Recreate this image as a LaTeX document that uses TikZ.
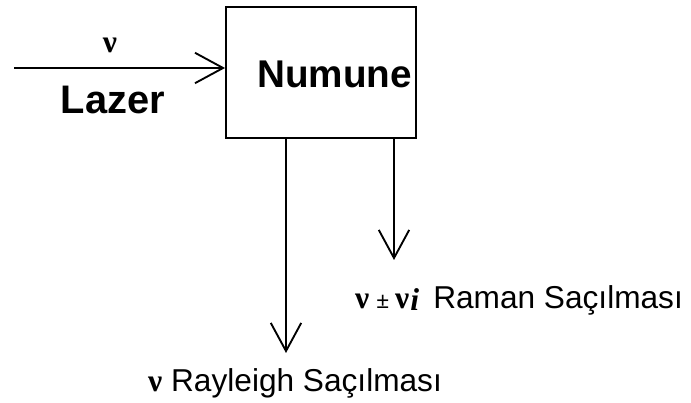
\documentclass[tikz,border=0pt]{standalone}
\usepackage{fontspec}
\setmainfont{Liberation Sans}
\newfontfamily\greekfont{Liberation Serif}
\usetikzlibrary{arrows.meta}
\usetikzlibrary{positioning}

\newcommand{\nusym}{{\greekfont\bfseries ν}}
\tikzset{
  beam/.style={line width=1.6pt,-{Straight Barb[length=24pt,width=26pt,line width=1.6pt]}},
  box/.style={draw,line width=1.6pt,minimum width=5.7cm,minimum height=3.93cm,inner sep=0pt},
  big/.style={font=\fontsize{33}{37}\selectfont\bfseries,inner sep=0pt},
  lbl/.style={font=\fontsize{27}{31}\selectfont,inner sep=0pt,anchor=west}
}

\begin{document}
\begin{tikzpicture}[x=0.03cm,y=0.03cm]
\useasboundingbox (0,0) rectangle (691,403);
\node[box] (sample) at (321,330.5){};
\node[big] (numune) at (334.5,329){Numune};
\coordinate (laser) at (14,335);
\draw[beam] (laser) -- (laser -| sample.west);
\node[lbl,anchor=center] (nuin) at (110,358){\nusym};
\node[big,font=\fontsize{34}{38}\selectfont\bfseries] (lazer) at (113,303){Lazer};
\coordinate (rayl) at (286,50);
\coordinate (raman) at (394,143);
\draw[beam] (rayl |- sample.south) -- (rayl);
\draw[beam] (raman |- sample.south) -- (raman);
\node[lbl] (ramanlbl) at (355,103){\nusym\kern6pt{\greekfont\bfseries\fontsize{20}{22}\selectfont ±}\kern5pt\nusym\kern1pt\raisebox{-2pt}{\greekfont\bfseries\itshape i}\kern12pt Raman Saçılması};
\node[lbl] (rayllbl) at (148,20){\nusym\ Rayleigh Saçılması};
\end{tikzpicture}
\end{document}
